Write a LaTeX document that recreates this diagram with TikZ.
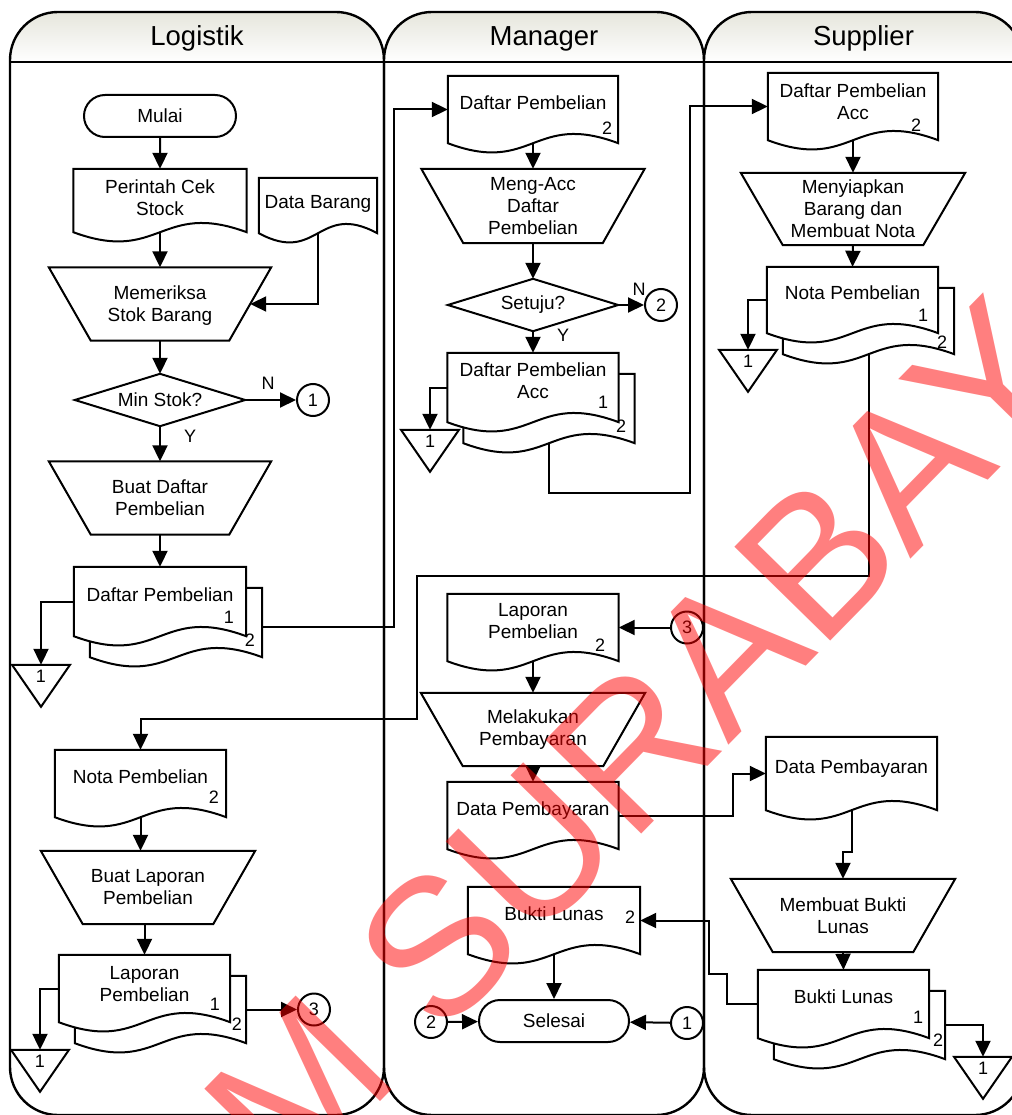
\documentclass[tikz,border=0pt]{standalone}
\usepackage{fontspec}
\setmainfont{Liberation Sans}
\usetikzlibrary{arrows.meta, positioning, shapes.misc, backgrounds, calc}
\definecolor{hdrtop}{RGB}{230,230,220}
\definecolor{wmred}{RGB}{255,0,0}
\newcommand{\nfont}{\fontsize{19}{22}\selectfont}
\newcommand{\sfont}{\fontsize{18}{20}\selectfont}
\newcommand{\hfont}{\fontsize{27.5}{30}\selectfont}
\tikzset{
  ln/.style     = {line width=2pt},
  lane/.style   = {line width=2.4pt},
  term/.style   = {rounded rectangle, draw, ln, fill=white, minimum width=152pt,
                   minimum height=42pt, inner sep=0pt, font=\nfont},
  proc/.style   = {rectangle, minimum width=222pt, minimum height=73pt, inner sep=0pt,
                   align=center, font=\nfont},
  dec/.style    = {rectangle, minimum width=170pt, minimum height=52pt, inner sep=0pt,
                   font=\nfont},
  doc/.style    = {rectangle, minimum width=171pt, minimum height=67pt, inner sep=0pt,
                   text depth=14pt, align=center, font=\nfont},
  conn/.style   = {circle, draw, ln, fill=white, minimum size=32pt, inner sep=0pt, font=\sfont},
  offnum/.style = {minimum height=22pt, inner sep=0pt, font=\sfont},
  num/.style    = {inner sep=0pt, font=\sfont},
  arrow/.style  = {ln, -{Triangle[length=16pt, width=15pt]}},
  wmark/.style  = {rotate=45.6, text=wmred, opacity=0.5, inner sep=0pt,
                   font=\fontsize{195}{195}\selectfont},
}
% document outline (node, dx, dy), drawn behind the text
\newcommand{\docout}[3]{%
  \begin{scope}[on background layer]
    \draw[ln, fill=white] ([shift={(#2,#3)}]#1.north west) -- ([shift={(#2,#3)}]#1.north east)
      -- ([shift={(#2,#3)}]#1.south east)
      .. controls ([shift={(#2,#3-32)}]#1.south) and ([shift={(#2,#3+32)}]#1.south)
      .. ([shift={(#2,#3)}]#1.south west) -- cycle;
  \end{scope}}
\newcommand{\docbox}[1]{\docout{#1}{0}{0}}
\newcommand{\multidoc}[1]{\docout{#1}{16}{21}\docout{#1}{0}{0}}
% manual operation and decision outlines
\newcommand{\procout}[1]{%
  \begin{scope}[on background layer]
    \draw[ln, fill=white] (#1.north west) -- (#1.north east) -- ([xshift=-42pt]#1.south east)
      -- ([xshift=42pt]#1.south west) -- cycle;
  \end{scope}}
\newcommand{\decout}[1]{%
  \begin{scope}[on background layer]
    \draw[ln, fill=white] (#1.north) -- (#1.east) -- (#1.south) -- (#1.west) -- cycle;
  \end{scope}}
\newcommand{\offpage}[1]{\draw[ln] (#1.north) ++(-29,0) -- ++(58,0) -- ++(-29,42) -- cycle;}

\begin{document}
\begin{tikzpicture}[x=1pt, y=-1pt]
  \useasboundingbox (0,0) rectangle (1011,1115);

  % swim lanes
  \foreach \xl/\xr/\lname in {10/384/Logistik, 384/704/Manager, 704/1023/Supplier} {
    \begin{scope}
      \clip[rounded corners=48pt] (\xl,200) -- (\xl,12) -- (\xr,12) -- (\xr,200) -- cycle;
      \shade[top color=hdrtop, bottom color=white] (\xl,12) rectangle (\xr,62);
    \end{scope}
    \draw[lane, rounded corners=48pt] (\xl,600) -- (\xl,12) -- (\xr,12) -- (\xr,1115)
      -- (\xl,1115) -- cycle;
    \draw[lane] (\xl,62) -- (\xr,62);
    \node[font=\hfont] (hd-\lname) at ({(\xl+\xr)/2},38.5) {\lname};
  }

  % Logistik
  \node[term] (mulai) at (160,116) {Mulai};
  \node[doc, minimum width=173pt, minimum height=63pt, text depth=5pt] (perintah) at (160,200.5) {Perintah Cek\\Stock};
  \docbox{perintah}
  \node[doc, minimum width=118pt, minimum height=55pt, text depth=8pt] (databarang) at (318,205.5) {Data Barang};
  \docbox{databarang}
  \node[proc, text depth=0pt] (memeriksa) at (160,304) {Memeriksa\\Stok Barang};
  \procout{memeriksa}
  \node[dec] (minstok) at (160,400) {Min Stok?};
  \decout{minstok}
  \node[conn] (c1l) at (313,400) {1};
  \node[num] (lbN1) at (268,383) {N};
  \node[num] (lbY1) at (190,436) {Y};
  \node[proc] (buatdaftar) at (160,498) {Buat Daftar\\Pembelian};
  \procout{buatdaftar}
  \node[doc, minimum width=172pt, minimum height=69pt] (dpl) at (160,601.5) {Daftar Pembelian};
  \multidoc{dpl}
  \node[num] (dpl-a) at (229,617) {1};
  \node[num] (dpl-b) at (250,640) {2};
  \node[offnum] (t1) at (41,676) {1};
  \offpage{t1}

  \node[doc] (notal) at (140.5,783.5) {Nota Pembelian};
  \docbox{notal}
  \node[num] (notal-b) at (214,797) {2};
  \node[proc, minimum width=214pt] (buatlap) at (148,887.5) {Buat Laporan\\Pembelian};
  \procout{buatlap}
  \node[doc, text depth=10pt] (lapl) at (144.5,988.5) {Laporan\\Pembelian};
  \multidoc{lapl}
  \node[num] (lapl-a) at (215,1004) {1};
  \node[num] (lapl-b) at (237,1024) {2};
  \node[offnum] (t4) at (40,1061) {1};
  \offpage{t4}
  \node[conn] (c3l) at (314,1009.5) {3};

  % Manager
  \node[doc, minimum width=170pt] (dpm) at (533,109.5) {Daftar Pembelian};
  \docbox{dpm}
  \node[num] (dpm-b) at (607,128) {2};
  \node[proc, minimum width=223pt, minimum height=74pt] (mengacc) at (533,206) {Meng-Acc\\Daftar\\Pembelian};
  \procout{mengacc}
  \node[dec] (setuju) at (533,305) {Setuju?};
  \decout{setuju}
  \node[conn] (c2n) at (661,305) {2};
  \node[num] (lbN2) at (639,289) {N};
  \node[num] (lbY2) at (563,335) {Y};
  \node[doc, minimum height=69pt] (dpacc) at (533,387.5) {Daftar Pembelian\\Acc};
  \multidoc{dpacc}
  \node[num] (dpacc-a) at (603,402) {1};
  \node[num] (dpacc-b) at (621,426) {2};
  \node[offnum] (t2) at (430,441) {1};
  \offpage{t2}

  \node[doc] (lapm) at (533,627.5) {Laporan\\Pembelian};
  \docbox{lapm}
  \node[num] (lapm-b) at (600,645) {2};
  \node[conn] (c3m) at (687,627.5) {3};
  \node[proc, minimum width=224pt] (melakukan) at (533,729.5) {Melakukan\\Pembayaran};
  \procout{melakukan}
  \node[doc] (datam) at (533,815.5) {Data Pembayaran};
  \docbox{datam}
  \node[doc, minimum width=172pt] (buktim) at (554,920.5) {Bukti Lunas};
  \docbox{buktim}
  \node[num] (buktim-b) at (630,917) {2};
  \node[term, minimum width=150pt] (selesai) at (554,1021) {Selesai};
  \node[conn] (c2m) at (431,1022) {2};
  \node[conn] (c1m) at (687,1023) {1};

  % Supplier
  \node[doc, minimum width=170pt, text depth=10pt] (dpas) at (853,106.5) {Daftar Pembelian\\Acc};
  \docbox{dpas}
  \node[num] (dpas-b) at (916,125) {2};
  \node[proc, minimum width=224pt, minimum height=72pt] (menyiapkan) at (853,209) {Menyiapkan\\Barang dan\\Membuat Nota};
  \procout{menyiapkan}
  \node[doc, minimum height=66pt] (notas) at (852.5,300) {Nota Pembelian};
  \multidoc{notas}
  \node[num] (notas-a) at (923,315) {1};
  \node[num] (notas-b) at (942,342) {2};
  \node[offnum] (t3) at (748,361) {1};
  \offpage{t3}

  \node[doc, minimum height=73pt] (datas) at (851.5,773.5) {Data Pembayaran};
  \docbox{datas}
  \node[proc, minimum width=224pt] (membuat) at (843,915.5) {Membuat Bukti\\Lunas};
  \procout{membuat}
  \node[doc, minimum height=68pt] (buktis) at (843.5,1004) {Bukti Lunas};
  \multidoc{buktis}
  \node[num] (buktis-a) at (918,1017) {1};
  \node[num] (buktis-b) at (938,1040) {2};
  \node[offnum] (t5) at (983,1068) {1};
  \offpage{t5}

  % flows
  \draw[arrow] (mulai) -- (perintah);
  \draw[arrow] (perintah.south) -- (memeriksa.north);
  \draw[arrow] (databarang.south) |- ([xshift=-21pt]memeriksa.east);
  \draw[arrow] (memeriksa.south) -- (minstok.north);
  \draw[arrow] (minstok.east) -- (c1l);
  \draw[arrow] (minstok.south) -- (buatdaftar.north);
  \draw[arrow] (buatdaftar.south) -- (dpl.north);
  \draw[arrow] (dpl.west) -| (t1.north);
  \draw[arrow] ([shift={(16,25)}]dpl.east) -| ($(dpm.west)+(-54,0)$) -- (dpm.west);
  \draw[arrow] (dpm.south) -- (mengacc.north);
  \draw[arrow] (mengacc.south) -- (setuju.north);
  \draw[arrow] (setuju.east) -- (c2n);
  \draw[arrow] (setuju.south) -- (dpacc.north);
  \draw[arrow] (dpacc.west) -| (t2.north);
  \draw[arrow] ([shift={(16,21)}]dpacc.south) -- ++(0,50) -| ($(dpas.west)+(-78,0)$) -- (dpas.west);
  \draw[arrow] (dpas.south) -- (menyiapkan.north);
  \draw[arrow] (menyiapkan.south) -- (notas.north);
  \draw[arrow] (notas.west) -| (t3.north);
  \draw[arrow] ([shift={(16,21)}]notas.south) -- ++(0,222) -| ($(notal.north)+(276,-31)$) -| (notal.north);
  \draw[arrow] (notal.south) -- (notal.south |- buatlap.north);
  \draw[arrow] (lapl.north |- buatlap.south) -- (lapl.north);
  \draw[arrow] (lapl.west) -| (t4.north);
  \draw[arrow] ([shift={(16,21)}]lapl.east) -- (c3l);
  \draw[arrow] (c3m) -- (lapm.east);
  \draw[arrow] (lapm.south) -- (melakukan.north);
  \draw[arrow] (melakukan.south) -- (datam.north);
  \draw[arrow] (datam.east) -| ($(datas.west)+(-33,0)$) -- (datas.west);
  \draw[arrow] (datas.south) -- ++(0,42) -| (membuat.north);
  \draw[arrow] (membuat.south) -- (buktis.north);
  \draw[arrow] ([shift={(16,21)}]buktis.east) -| (t5.north);
  \draw[arrow] (buktis.west) -- ++(-31,0) -- ++(0,-30) -- ++(-18,0) |- (buktim.east);
  \draw[arrow] (buktim.south) -- (selesai.north);
  \draw[arrow] (c2m) -- (selesai);
  \draw[arrow] (c1m) -- (selesai);

  % watermark
  \node[wmark] (wm) at (638,742) {M SURABAY};
\end{tikzpicture}
\end{document}
